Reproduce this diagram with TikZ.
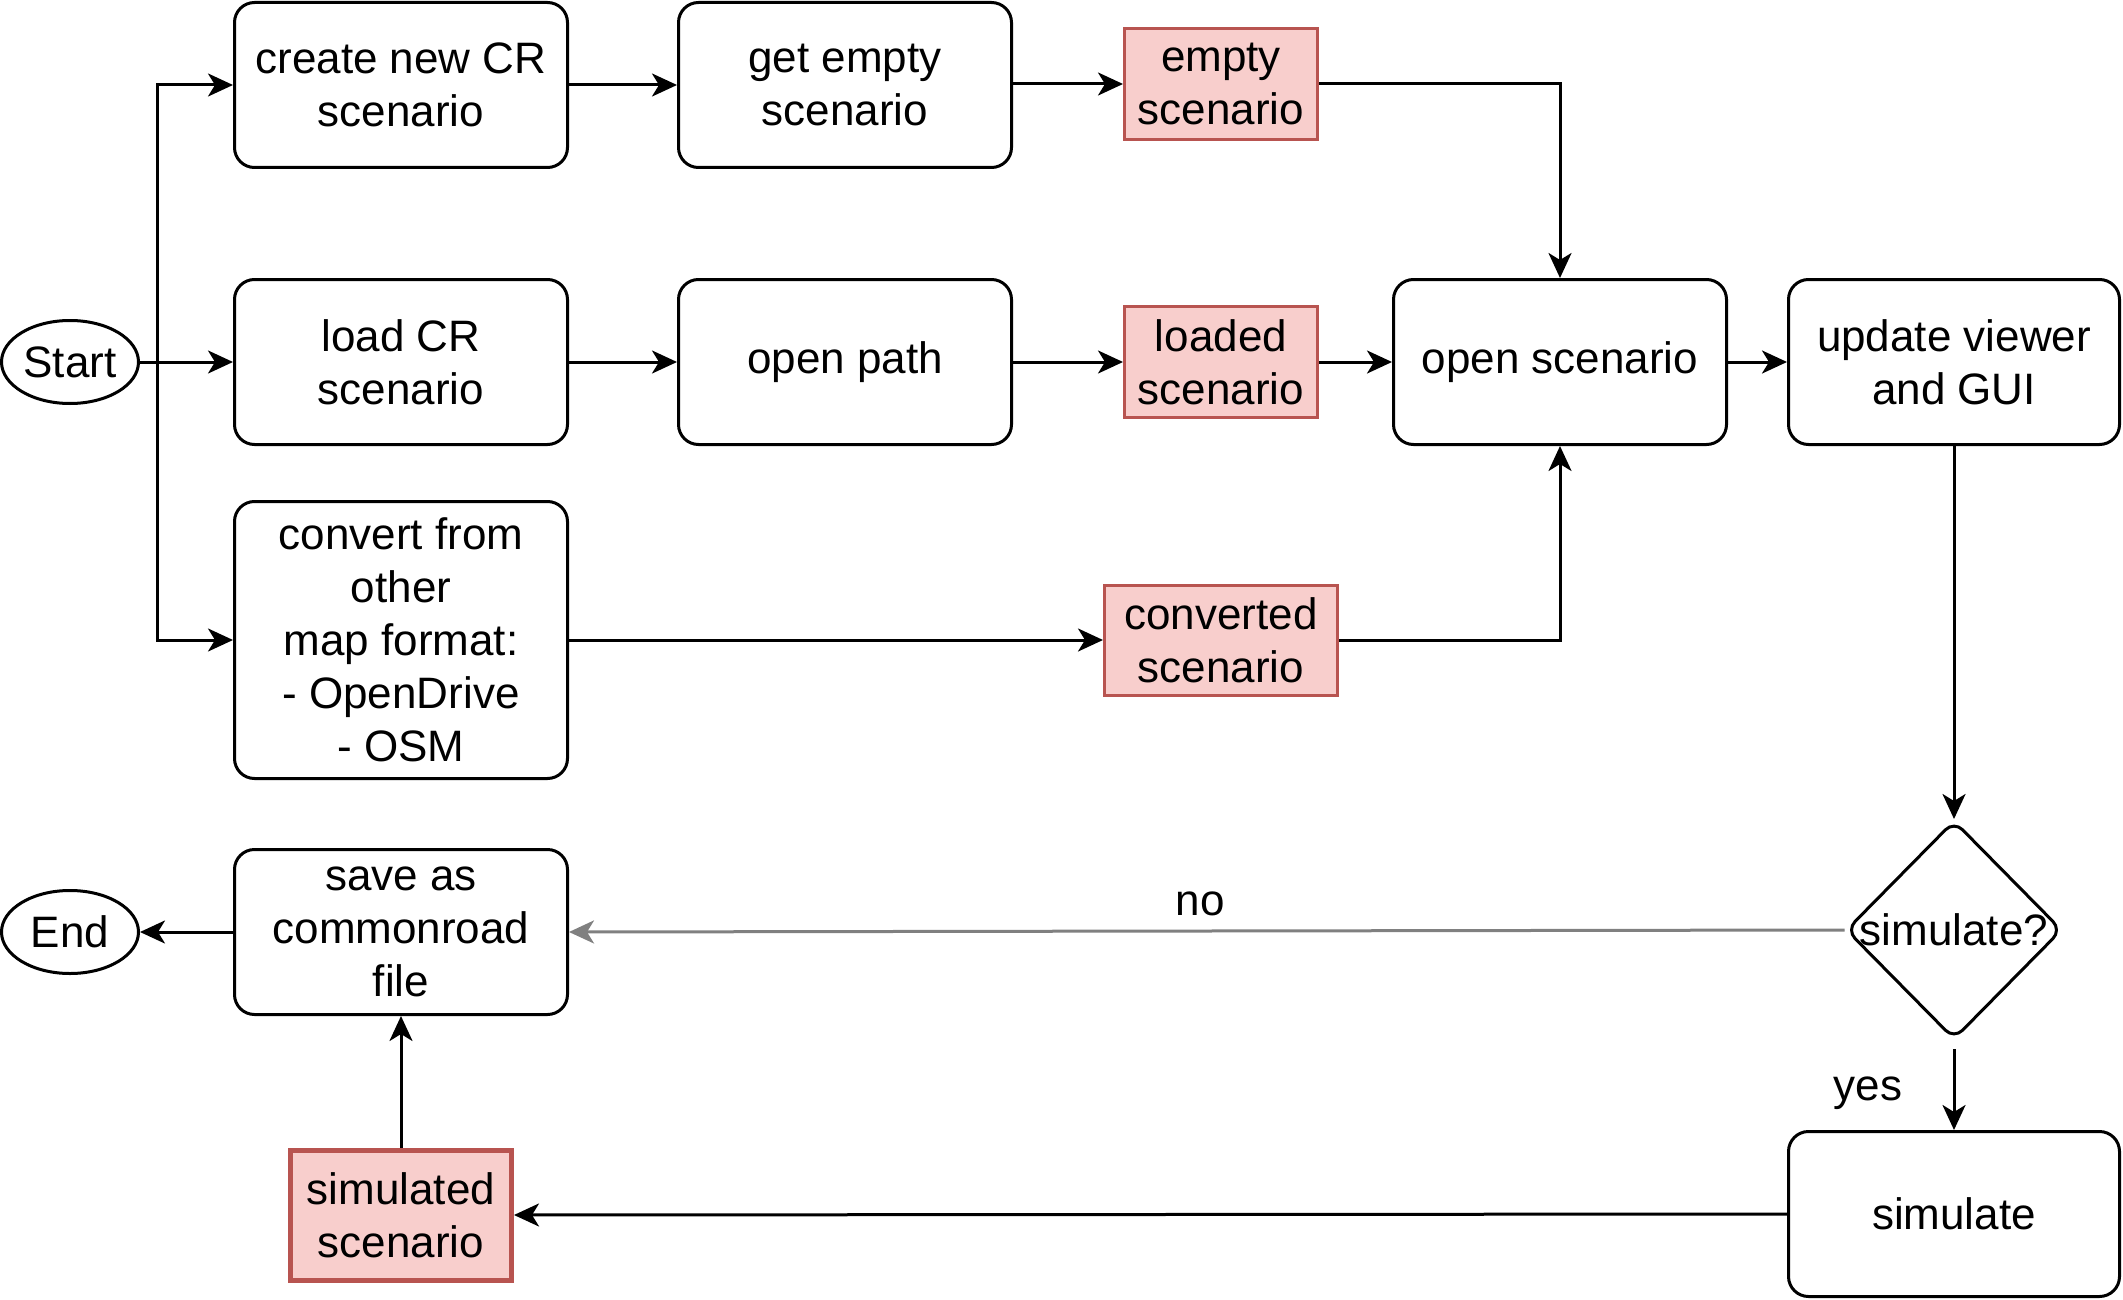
\documentclass[tikz,border=0pt]{standalone}
\usepackage{fontspec}
\setmainfont{Liberation Sans}
\usetikzlibrary{arrows.meta,shapes.geometric}
\definecolor{redf}{HTML}{F8CECC}
\definecolor{redd}{HTML}{B85450}
\definecolor{noline}{HTML}{808080}
\begin{document}
\begin{tikzpicture}[x=1pt,y=-1pt,
  every node/.style={font=\fontsize{44}{53}\selectfont},
  lw/.style={line width=3pt},
  procbox/.style={draw, lw, rounded corners=20pt, minimum width=333pt, minimum height=165pt, align=center, inner sep=0pt},
  databox/.style={draw=redd, fill=redf, lw, minimum width=193pt, minimum height=111pt, align=center, inner sep=0pt},
  termin/.style={draw, ellipse, lw, minimum width=137pt, minimum height=83pt, inner sep=0pt},
  arr/.style={lw, -{Stealth[length=25pt,width=23pt,inset=7pt]}},
  plain/.style={lw}
]
\useasboundingbox (0,0) rectangle (2123,1300);

% terminals
\node[termin] (start) at (70,362) {Start};
\node[termin] (endn) at (70,932) {End};

% row 1
\node[procbox] (create) at (401,85) {create new CR\\scenario};
\node[procbox] (getempty) at (845,85) {get empty\\scenario};
\node[databox] (empty) at (1221,84) {empty\\scenario};

% row 2
\node[procbox] (load) at (401,362) {load CR\\scenario};
\node[procbox] (openpath) at (845,362) {open path};
\node[databox] (loaded) at (1221,362) {loaded\\scenario};
\node[procbox] (open) at (1560,362) {open scenario};
\node[procbox, minimum width=331pt] (update) at (1954,362) {update viewer\\and GUI};

% row 3
\node[procbox, minimum height=277pt] (convert) at (401,640) {convert from\\other\\map format:\\- OpenDrive\\- OSM};
\node[databox, minimum width=233pt, minimum height=110pt] (converted) at (1221,640) {converted\\scenario};

% decision
\node[draw, diamond, lw, rounded corners=12pt, minimum width=216pt, minimum height=219pt, inner sep=0pt] (sim) at (1954,930) {};
\node (simt) at (1954,930) {simulate?};

% bottom
\node[procbox] (save) at (401,932) {save as\\commonroad\\file};
\node[procbox, minimum width=331pt] (simulate) at (1954,1214) {simulate};
\node[databox, minimum width=221pt, minimum height=130pt, line width=5pt] (simscen) at (401,1215) {simulated\\scenario};

% connectors
\coordinate (split) at (157,362);
\draw[plain] (start.east) -- (split);
\draw[arr] (split) |- (create.west);
\draw[arr] (split) -- (load.west);
\draw[arr] (split) |- (convert.west);

\draw[arr] (create) -- (getempty);
\draw[arr] (getempty.east |- empty.west) -- (empty.west);
\draw[arr] (empty.east) -| (open.north);

\draw[arr] (load) -- (openpath);
\draw[arr] (openpath) -- (loaded);
\draw[arr] (loaded) -- (open);
\draw[arr] (open) -- (update);

\draw[arr] (convert.east) -- (converted.west);
\draw[arr] (converted.east) -| (open.south);

\draw[arr] (update.south) -- (sim.north);
\draw[arr, draw=noline, fill=black] (sim.west) -- node[above, text=black, pos=0.505, yshift=10pt] (nolab) {no} (save.east);
\draw[arr, shorten <=8pt] (sim.south) -- (simulate.north);
\node (yeslab) at (1868,1093) {yes};

\draw[arr] (simulate.west) -- (simscen.east);
\draw[arr] (simscen.north) -- (save.south);
\draw[arr] (save.west) -- (endn.east);
\end{tikzpicture}
\end{document}
